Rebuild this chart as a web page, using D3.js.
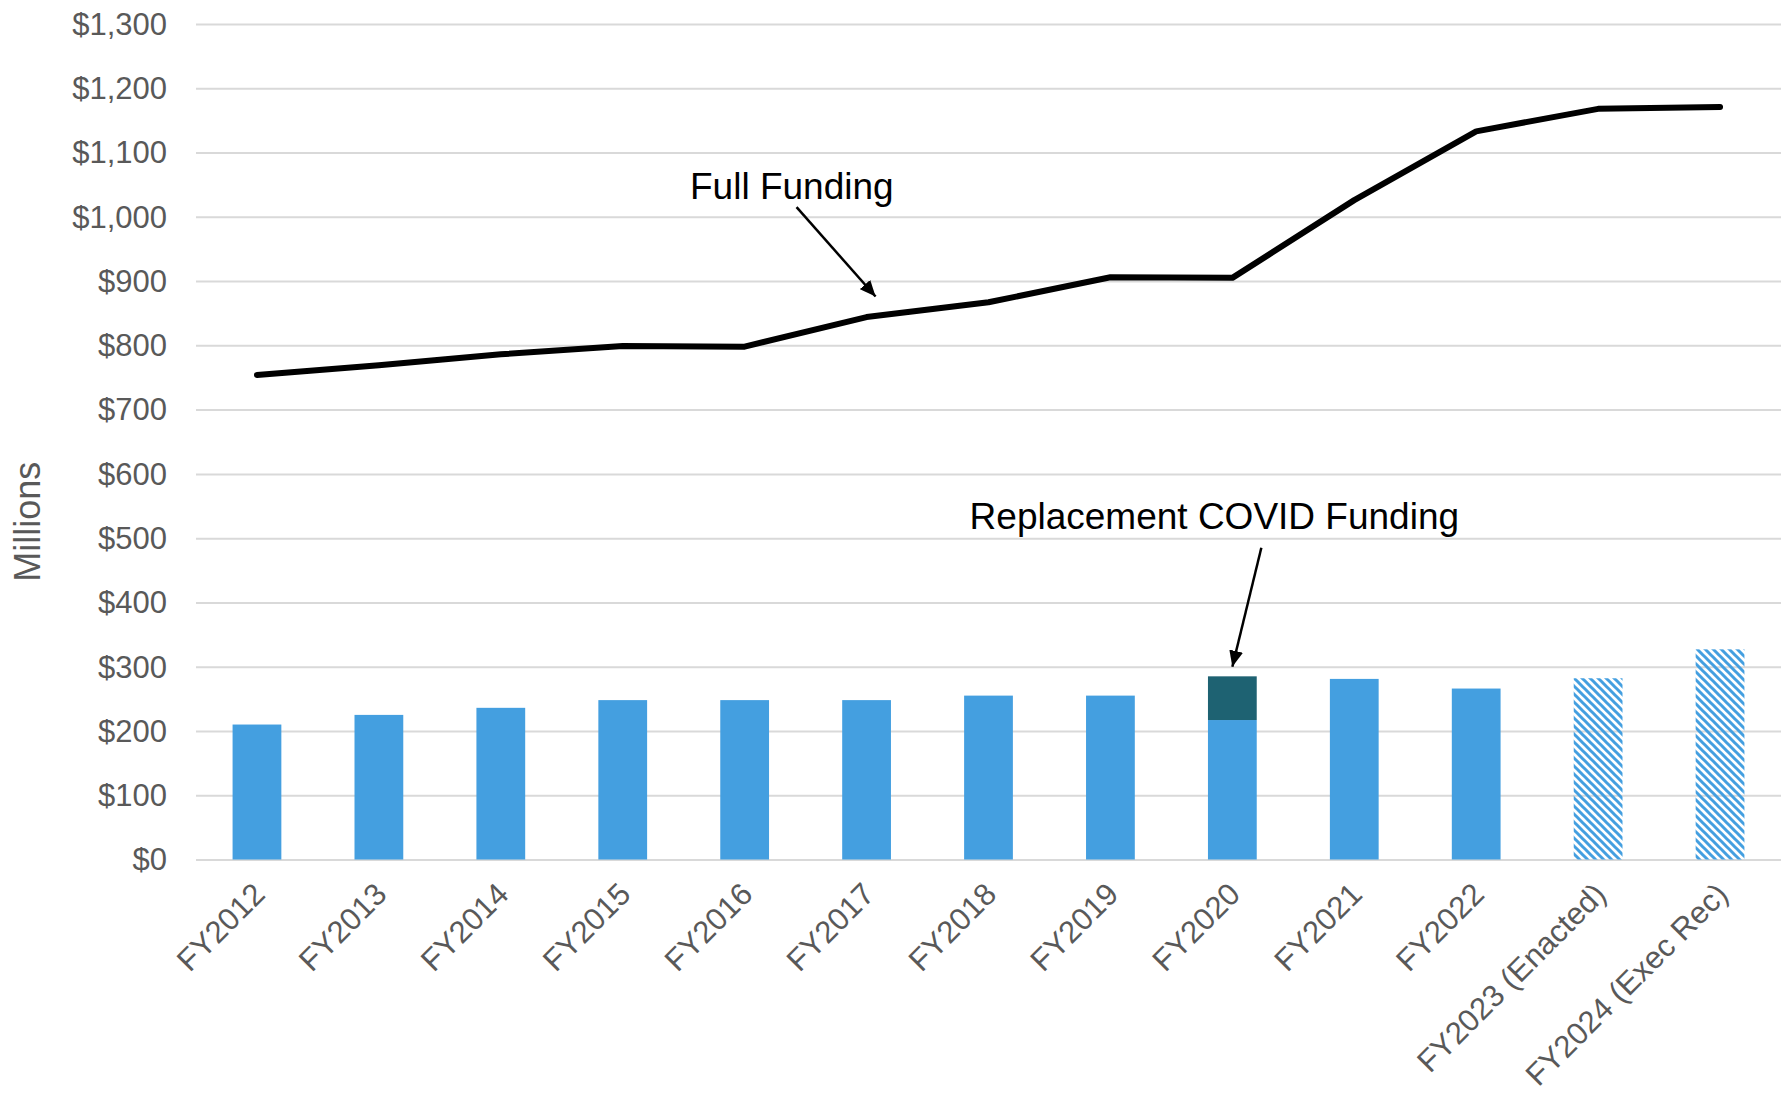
<!DOCTYPE html>
<meta charset="utf-8">
<style>
    body { margin: 0; background: #fff; }
    text { font-family: "Liberation Sans", Arial, sans-serif; }
    .tick-label { font-size: 31px; fill: #595959; }
    .cat-label { font-size: 31px; fill: #595959; }
    .axis-title { font-size: 36px; fill: #595959; }
    .note { font-size: 37px; fill: #000; }
    .grid line { stroke: #d9d9d9; stroke-width: 2px; }
</style>
<svg width="1787" height="1095"></svg>
<script src="https://d3js.org/d3.v7.min.js"></script>
<script>
    const categories = ["FY2012", "FY2013", "FY2014", "FY2015", "FY2016", "FY2017", "FY2018",
        "FY2019", "FY2020", "FY2021", "FY2022", "FY2023 (Enacted)", "FY2024 (Exec Rec)"];
    // appropriated amounts, $ millions
    const baseFunding = [210, 225, 236, 248, 248, 248, 255, 255, 217, 281, 266, 282, 327];
    const covidReplacement = [0, 0, 0, 0, 0, 0, 0, 0, 68, 0, 0, 0, 0];
    const projected = [false, false, false, false, false, false, false, false, false, false, false, true, true];
    // full funding level, $ millions
    const fullFunding = [754, 769, 786, 799, 798, 844, 867, 906, 905, 1026, 1133, 1168, 1171];
    const yTicks = d3.range(0, 1301, 100);

    const svg = d3.select("svg"),
        margin = { top: 24, right: 6, bottom: 235.5, left: 196 },
        W = +svg.attr("width"),
        H = +svg.attr("height");

    const x = d3.scaleBand()
        .domain(categories)
        .range([margin.left, W - margin.right])
        .paddingInner(0.6)
        .paddingOuter(0.3);

    const y = d3.scaleLinear()
        .domain([0, 1300])
        .range([H - margin.bottom, margin.top]);

    const xc = c => x(c) + x.bandwidth() / 2;

    // defs: hatch pattern + arrowhead
    const defs = svg.append("defs");
    defs.append("pattern")
        .attr("id", "hatch")
        .attr("patternUnits", "userSpaceOnUse")
        .attr("width", 8)
        .attr("height", 8)
        .append("path")
        .attr("d", "M-2,-2 L10,10 M-2,6 L2,10 M6,-2 L10,2")
        .attr("stroke", "#449fe0")
        .attr("stroke-width", 3);

    defs.append("marker")
        .attr("id", "arrow")
        .attr("markerUnits", "userSpaceOnUse")
        .attr("viewBox", "0 0 16 14")
        .attr("refX", 16)
        .attr("refY", 7)
        .attr("markerWidth", 16)
        .attr("markerHeight", 14)
        .attr("orient", "auto")
        .append("path")
        .attr("d", "M0,0 L16,7 L0,14 Z")
        .attr("fill", "#000");

    // gridlines
    svg.append("g")
        .attr("class", "grid")
        .attr("transform", `translate(${margin.left},0)`)
        .call(d3.axisLeft(y).tickValues(yTicks).tickSize(-(W - margin.left - margin.right)).tickFormat(""))
        .call(g => g.select(".domain").remove());

    // y tick labels
    svg.append("g")
        .selectAll("text")
        .data(yTicks)
        .join("text")
        .attr("class", "tick-label")
        .attr("x", 167)
        .attr("y", d => y(d))
        .attr("dy", "0.35em")
        .attr("text-anchor", "end")
        .text(d => "$" + d3.format(",")(d));

    svg.append("text")
        .attr("class", "axis-title")
        .attr("transform", `translate(27,${(y(0) + y(1300)) / 2 + 80}) rotate(-90)`)
        .attr("dy", "0.35em")
        .attr("text-anchor", "middle")
        .text("Millions");

    // bars
    svg.append("g")
        .selectAll("rect")
        .data(categories)
        .join("rect")
        .attr("x", d => x(d))
        .attr("width", x.bandwidth())
        .attr("y", (d, i) => y(baseFunding[i]))
        .attr("height", (d, i) => y(0) - y(baseFunding[i]))
        .attr("fill", (d, i) => projected[i] ? "url(#hatch)" : "#449fe0");

    svg.append("g")
        .selectAll("rect")
        .data(categories.filter((d, i) => covidReplacement[i] > 0))
        .join("rect")
        .attr("x", d => x(d))
        .attr("width", x.bandwidth())
        .attr("y", d => { const i = categories.indexOf(d); return y(baseFunding[i] + covidReplacement[i]); })
        .attr("height", d => { const i = categories.indexOf(d); return y(baseFunding[i]) - y(baseFunding[i] + covidReplacement[i]); })
        .attr("fill", "#1e6272");

    // full funding line
    const line = d3.line()
        .x((d, i) => xc(categories[i]))
        .y(d => y(d));

    svg.append("path")
        .datum(fullFunding)
        .attr("d", line)
        .attr("fill", "none")
        .attr("stroke", "#000")
        .attr("stroke-width", 6)
        .attr("stroke-linecap", "round")
        .attr("stroke-linejoin", "round");

    // category labels
    svg.append("g")
        .selectAll("text")
        .data(categories)
        .join("text")
        .attr("class", "cat-label")
        .attr("transform", d => `translate(${xc(d) + 2},${y(0) + 29}) rotate(-45)`)
        .attr("dy", "0.35em")
        .attr("text-anchor", "end")
        .text(d => d);

    // annotations
    svg.append("text")
        .attr("class", "note")
        .attr("x", 690)
        .attr("y", y(1027))
        .text("Full Funding");

    svg.append("line")
        .attr("x1", xc("FY2017") - 70)
        .attr("y1", y(1015))
        .attr("x2", xc("FY2017") + 9)
        .attr("y2", y(876))
        .attr("stroke", "#000")
        .attr("stroke-width", 2.5)
        .attr("marker-end", "url(#arrow)");

    svg.append("text")
        .attr("class", "note")
        .attr("x", xc("FY2020") - 18)
        .attr("y", y(514))
        .attr("text-anchor", "middle")
        .text("Replacement COVID Funding");

    svg.append("line")
        .attr("x1", xc("FY2020") + 29)
        .attr("y1", y(485))
        .attr("x2", xc("FY2020"))
        .attr("y2", y(300))
        .attr("stroke", "#000")
        .attr("stroke-width", 2.5)
        .attr("marker-end", "url(#arrow)");
</script>
